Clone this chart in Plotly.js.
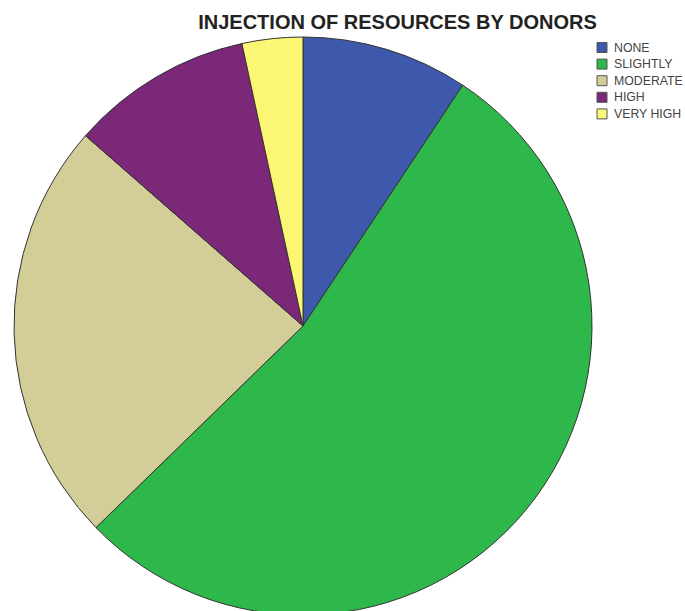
<!DOCTYPE html>
<html>
<head>
<meta charset="utf-8">
<script src="https://cdn.plot.ly/plotly-3.0.1.min.js"></script>
<style>html,body{margin:0;padding:0;overflow:hidden;background:#fff}</style>
</head>
<body>
<div id="chart" style="width:685px;height:620px"></div>
<script>
const categories = ["NONE", "SLIGHTLY", "MODERATE", "HIGH", "VERY HIGH"];
const counts = [11, 63, 28, 12, 4];
const colors = ["#3e58ac", "#2eb74a", "#d3ce98", "#7b2878", "#fbf774"];

const W = 685, H = 620;
const cx = 303, cy = 326, r = 289;

const trace = {
  type: "pie",
  labels: categories,
  values: counts,
  sort: false,
  direction: "clockwise",
  rotation: 0,
  textinfo: "none",
  hoverinfo: "label+value+percent",
  showlegend: false,
  marker: {colors: colors, line: {color: "#333333", width: 1}},
  domain: {x: [(cx - r) / W, (cx + r) / W], y: [(H - cy - r) / H, (H - cy + r) / H]}
};

// custom compact legend built from the category/colour arrays
const legTop = 47.5, legStep = 16.6, boxX0 = 597, boxX1 = 607, boxH = 10, textX = 611.5;
const shapes = [], annotations = [];
categories.forEach((c, i) => {
  const yc = legTop + legStep * i;
  shapes.push({
    type: "rect", xref: "paper", yref: "paper",
    x0: boxX0 / W, x1: boxX1 / W,
    y0: 1 - (yc + boxH / 2) / H, y1: 1 - (yc - boxH / 2) / H,
    fillcolor: colors[i], line: {color: "#555555", width: 1}
  });
  annotations.push({
    text: c, xref: "paper", yref: "paper",
    x: textX / W, y: 1 - yc / H, xanchor: "left", yanchor: "middle",
    showarrow: false,
    font: {family: "Liberation Sans, Arial, sans-serif", size: 12.3, color: "#444444"}
  });
});

const layout = {
  width: W, height: H,
  margin: {l: 0, r: 0, t: 0, b: 0, autoexpand: false},
  paper_bgcolor: "#ffffff",
  title: {
    text: "<b>INJECTION OF RESOURCES BY DONORS</b>",
    font: {family: "Liberation Sans, Arial, sans-serif", size: 20, color: "#222222"},
    x: 397.5 / W, xanchor: "center", xref: "paper",
    y: 1 - 21.5 / H, yanchor: "middle", yref: "container"
  },
  showlegend: false,
  shapes: shapes,
  annotations: annotations
};

Plotly.newPlot("chart", [trace], layout, {displayModeBar: false, staticPlot: true});
</script>
</body>
</html>
